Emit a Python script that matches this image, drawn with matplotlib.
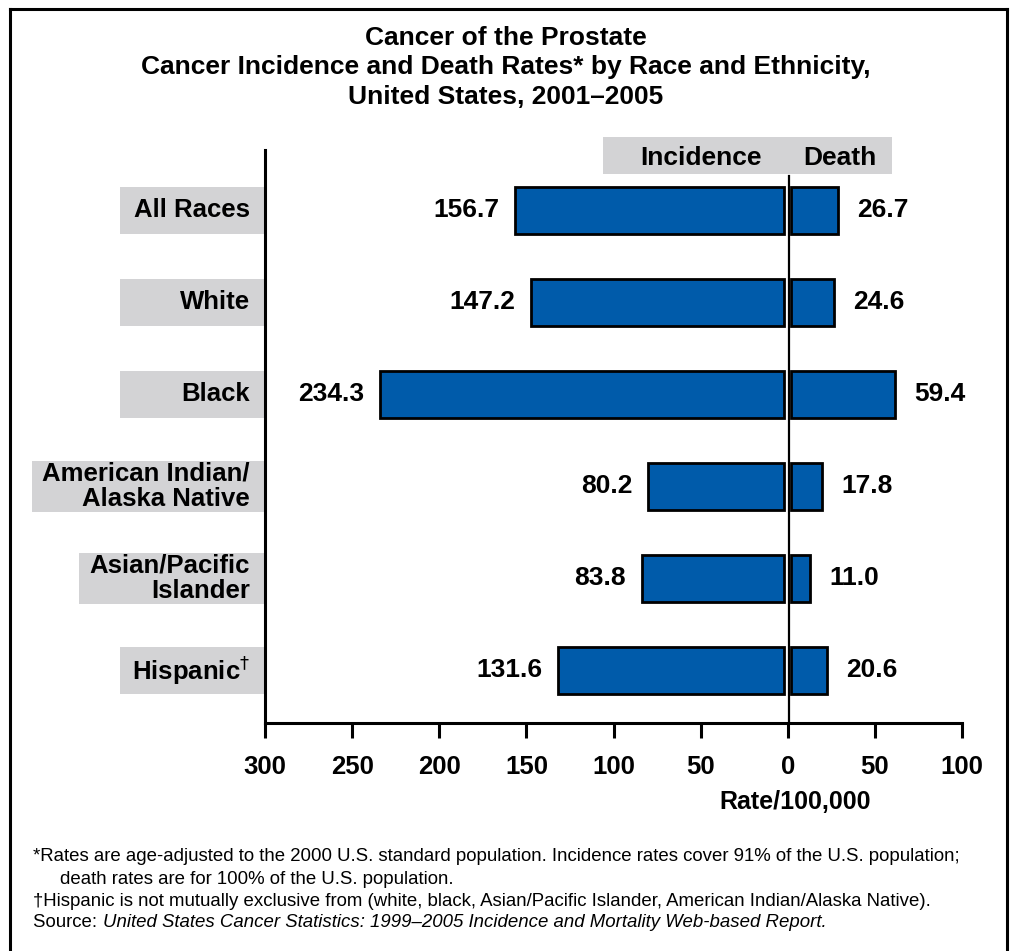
import matplotlib
matplotlib.use('Agg')
import matplotlib.pyplot as plt
from matplotlib.patches import Rectangle
from matplotlib.lines import Line2D
import matplotlib.transforms as mtransforms

plt.rcParams['font.family'] = ['Liberation Sans', 'DejaVu Sans']

# data
groups = ['All Races', 'White', 'Black', 'American Indian/\nAlaska Native',
          'Asian/Pacific\nIslander', 'Hispanic$^{\\dagger}$']
incidence = [156.7, 147.2, 234.3, 80.2, 83.8, 131.6]
death = [26.7, 24.6, 59.4, 17.8, 11.0, 20.6]
tick_vals = [-300, -250, -200, -150, -100, -50, 0, 50, 100]
tick_labels = ['300', '250', '200', '150', '100', '50', '0', '50', '100']

blue = '#005BAA'
gray = '#D3D3D5'
gap = 2.0  # small space either side of the zero line

fig = plt.figure(figsize=(10.12, 9.51), dpi=100)
ax = fig.add_axes([0.2619, 0.2397, 0.6887, 0.6025])

ys = list(range(len(groups)))
bh = 0.51
ax.barh(ys, [-(v - gap) for v in incidence], left=-gap, height=bh,
        color=blue, edgecolor='black', linewidth=2)
ax.barh(ys, death, left=gap, height=bh,
        color=blue, edgecolor='black', linewidth=2)

ax.set_xlim(-300, 100)
ax.set_ylim(5.576, -0.652)

ax.axvline(0.7, ymin=0, ymax=0.955, color='black', lw=1.6)

for y, v in zip(ys, incidence):
    ax.text(-v - 9, y, f'{v:.1f}', ha='right', va='center',
            fontsize=19, fontweight='bold')
for y, v in zip(ys, death):
    ax.text(v + gap + 11, y, f'{v:.1f}', ha='left', va='center',
            fontsize=19, fontweight='bold')

ax.spines['top'].set_visible(False)
ax.spines['right'].set_visible(False)
ax.spines['left'].set_linewidth(2.2)
ax.spines['bottom'].set_linewidth(2.2)
ax.set_yticks([])
ax.set_xticks(tick_vals)
ax.set_xticklabels(tick_labels, fontsize=18.5, fontweight='bold')
ax.tick_params(axis='x', direction='out', length=11, width=2.2, pad=12)
ax.annotate('Rate/100,000', xy=(4, 0), xycoords=('data', 'axes fraction'),
            xytext=(0, -48), textcoords='offset points', ha='center', va='top',
            fontsize=18, fontweight='bold')

# group labels with grey boxes against the spine
trans = mtransforms.blended_transform_factory(ax.transAxes, ax.transData)
label_texts = []
for y, g in zip(ys, groups):
    t = ax.text(-0.022, y, g, transform=trans, ha='right', va='center',
                fontsize=18.5, fontweight='bold', linespacing=1.05, zorder=3)
    label_texts.append(t)

fig.canvas.draw()
r = fig.canvas.get_renderer()
inv = ax.transAxes.inverted()
px_row = ax.transData.transform((0, 0))[1] - ax.transData.transform((0, 1))[1]
for y, t in zip(ys, label_texts):
    bb = t.get_window_extent(r)
    x0 = inv.transform((min(bb.x0 - 10, 120), 0))[0]
    h = max(bh, (bb.height + 2) / px_row)
    ax.add_patch(Rectangle((x0, y - h / 2), -x0, h, transform=trans,
                           facecolor=gray, edgecolor='none', clip_on=False, zorder=1))

# header box
ax.add_patch(Rectangle((-106, -0.79), 166, 0.4, facecolor=gray,
                       edgecolor='none', clip_on=False, zorder=1))
ax.text(-50, -0.57, 'Incidence', ha='center', va='center', fontsize=19,
        fontweight='bold', zorder=3)
ax.text(30, -0.57, 'Death', ha='center', va='center', fontsize=19,
        fontweight='bold', zorder=3)

fig.text(0.5, 0.973, 'Cancer of the Prostate\n'
         'Cancer Incidence and Death Rates* by Race and Ethnicity,\n'
         'United States, 2001\u20132005',
         ha='center', va='top', fontsize=19, fontweight='bold', linespacing=1.3)

fn = 13.4
fig.text(0.033, 0.0995, '*Rates are age-adjusted to the 2000 U.S. standard population. '
         'Incidence rates cover 91% of the U.S. population;', fontsize=fn, va='center')
fig.text(0.0593, 0.0755, 'death rates are for 100% of the U.S. population.',
         fontsize=fn, va='center')
fig.text(0.033, 0.0525, '\u2020Hispanic is not mutually exclusive from (white, black, '
         'Asian/Pacific Islander, American Indian/Alaska Native).', fontsize=fn,
         va='center')
src = fig.text(0.033, 0.0295, 'Source: ', fontsize=fn, va='center')
sb = src.get_window_extent(r)
fig.text(sb.x1 / fig.bbox.width, 0.0295, 'United States Cancer Statistics: '
         '1999\u20132005 Incidence and Mortality Web-based Report.',
         fontsize=fn, style='italic', va='center')

# outer frame (top, left, right)
for xs, yv in [([0.01, 0.01], [0.0, 0.991]), ([0.01, 0.995], [0.991, 0.991]),
               ([0.995, 0.995], [0.991, 0.0])]:
    fig.add_artist(Line2D(xs, yv, color='black', lw=2.2))

fig.savefig('out.png', dpi=100)
